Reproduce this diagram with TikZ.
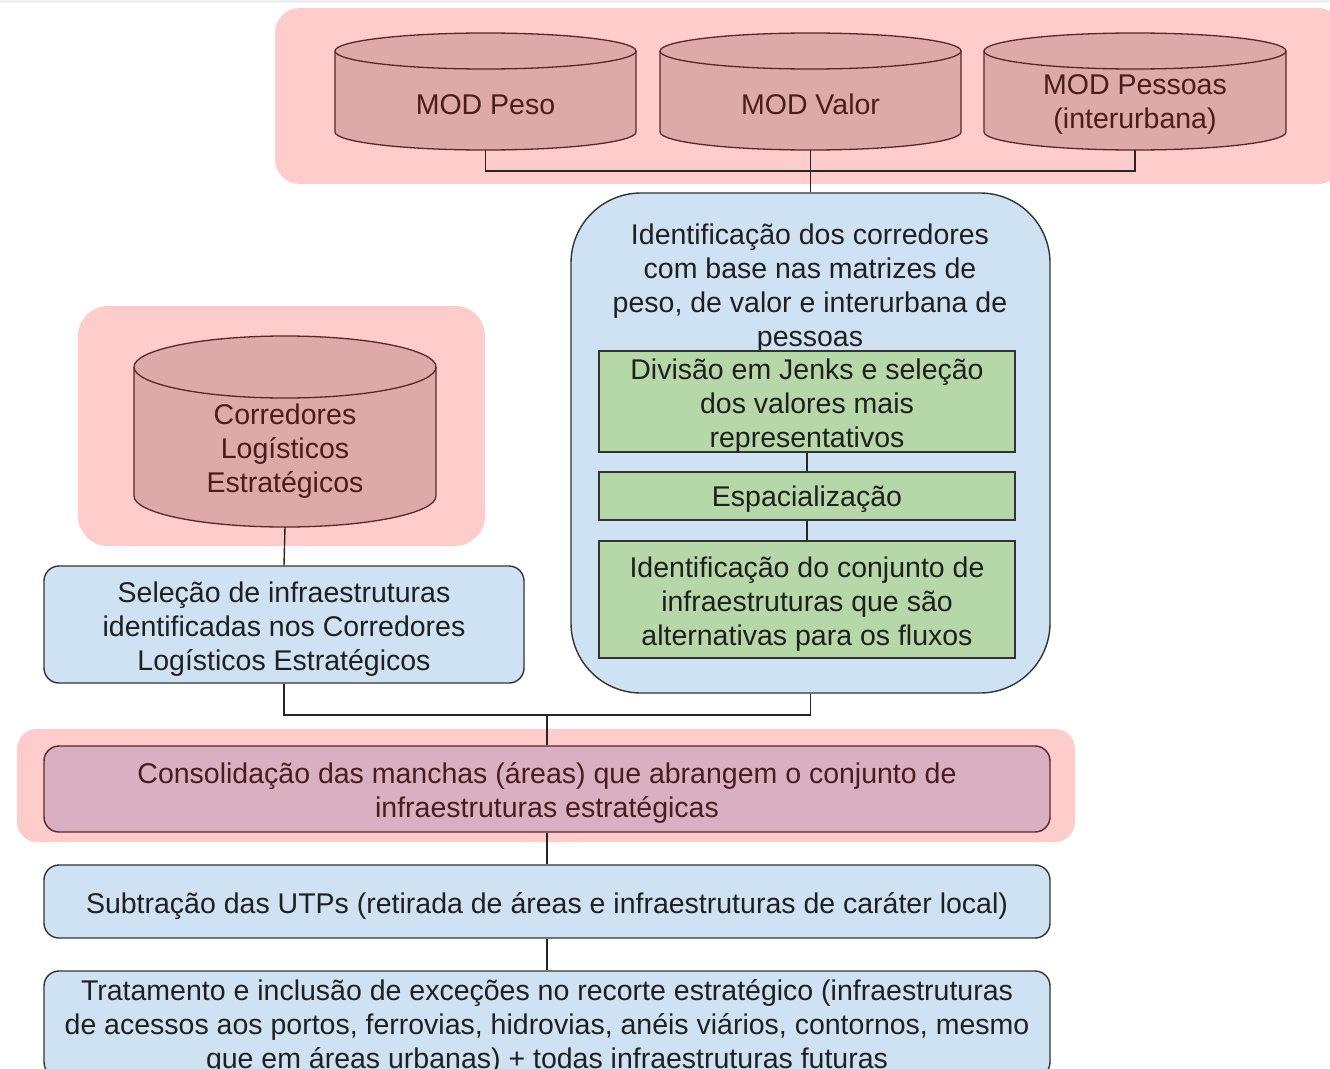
\documentclass[tikz,border=0pt]{standalone}
\usepackage{fontspec}
\setmainfont{Liberation Sans}
\definecolor{pinkbg}{HTML}{FFCCCC}
\definecolor{cylfill}{HTML}{DDA9A9}
\definecolor{cylline}{HTML}{5A2626}
\definecolor{cyltext}{HTML}{4A1C1C}
\definecolor{bluefill}{HTML}{CFE2F3}
\definecolor{greenfill}{HTML}{B6D7A8}
\definecolor{mauvefill}{HTML}{D8B0C2}
\definecolor{darkline}{HTML}{333333}
\definecolor{topgray}{HTML}{EFEFEF}
\newcommand{\mycyl}[7]{%
  \pgfmathsetmacro{\cylrx}{(#3-#2)/2}%
  \pgfmathsetmacro{\cylcx}{(#3+#2)/2}%
  \filldraw[cylshape] (#2,#4+#6) -- (#2,#5-#6)
    arc[start angle=180,end angle=360,x radius=\cylrx pt,y radius=#6 pt]
    -- (#3,#4+#6)
    arc[start angle=0,end angle=180,x radius=\cylrx pt,y radius=#6 pt] -- cycle;
  \draw[cylshape,fill=none] (#2,#4+#6)
    arc[start angle=180,end angle=360,x radius=\cylrx pt,y radius=#6 pt];
  \node[cyltxt] (#1) at (\cylcx,{(#4+#5+#6)/2+4}) {#7};
  \coordinate (#1b) at (\cylcx,#5);
}
\begin{document}
\begin{tikzpicture}[x=1pt,y=-1pt,
  txt/.style={font=\fontsize{28.5}{34}\selectfont, align=center, inner sep=0pt, text=black!88},
  cylshape/.style={draw=cylline, fill=cylfill, line width=1.3pt},
  cyltxt/.style={txt, text=cyltext},
  band/.style={fill=pinkbg, draw=none},
  bluebox/.style={draw=darkline, fill=bluefill, line width=1.4pt, rounded corners=15pt, inner sep=0pt},
  greenbox/.style={draw=darkline, fill=greenfill, line width=1.4pt, minimum width=416pt, inner sep=0pt},
  mauvebox/.style={draw=cylline, fill=mauvefill, line width=1.4pt, rounded corners=15pt, inner sep=0pt},
  conn/.style={draw=black!85, line width=1.4pt}
]
\useasboundingbox (0,0) rectangle (1330,1068);
\clip (0,0) rectangle (1330,1068);
\fill[white] (0,0) rectangle (1330,1068);
\fill[topgray] (0,0) rectangle (1330,3);

% background bands
\path[band, rounded corners=25pt] (275,8) rectangle (1343,184);
\path[band, rounded corners=30pt] (78,306) rectangle (485,546);
\path[band, rounded corners=20pt] (17,729) rectangle (1075,842);

% cylinders
\mycyl{peso}{335}{636}{33}{150}{18}{MOD Peso}
\mycyl{valor}{660}{961}{33}{150}{18}{MOD Valor}
\mycyl{pessoas}{984}{1286}{33}{150}{18}{MOD Pessoas\\(interurbana)}
\mycyl{corr}{134}{436}{336}{527}{31}{Corredores\\Logísticos\\Estratégicos}

% big blue box
\node[bluebox, rounded corners=70pt, minimum width=479pt, minimum height=500pt] (ident) at (810.5,443) {};
\node[txt] (identtxt) at (810,288.5) {Identificação dos corredores\\com base nas matrizes de\\peso, de valor e interurbana de\\pessoas};

% green boxes
\node[greenbox, minimum height=101pt] (jenks) at (807,401.5) {};
\node[txt] (jenkstxt) at ([yshift=-4.5pt]jenks.center) {Divisão em Jenks e seleção\\dos valores mais\\representativos};
\node[greenbox, minimum height=48pt] (espac) at (807,496) {};
\node[txt] (espactxt) at ([yshift=-3.5pt]espac.center) {Espacialização};
\node[greenbox, minimum height=117pt] (conj) at (807,599.5) {};
\node[txt] (conjtxt) at ([yshift=-5pt]conj.center) {Identificação do conjunto de\\infraestruturas que são\\alternativas para os fluxos};

% other boxes
\node[bluebox, minimum width=480pt, minimum height=117pt] (selecao) at (284,624.5) {};
\node[txt] (selecaotxt) at ([yshift=-4.5pt]selecao.center) {Seleção de infraestruturas\\identificadas nos Corredores\\Logísticos Estratégicos};
\node[mauvebox, minimum width=1006pt, minimum height=86pt] (consol) at (547,789) {};
\node[txt, text=cyltext] (consoltxt) at ([yshift=-4pt]consol.center) {Consolidação das manchas (áreas) que abrangem o conjunto de\\infraestruturas estratégicas};
\node[bluebox, minimum width=1006pt, minimum height=73pt] (subtr) at (547,901.5) {};
\node[txt] (subtrtxt) at ([yshift=-4.5pt]subtr.center) {Subtração das UTPs (retirada de áreas e infraestruturas de caráter local)};
\node[bluebox, minimum width=1006pt, minimum height=106pt] (trat) at (547,1024) {};
\node[txt] (trattxt) at ([yshift=-3pt]trat.center) {Tratamento e inclusão de exceções no recorte estratégico (infraestruturas\\de acessos aos portos, ferrovias, hidrovias, anéis viários, contornos, mesmo\\que em áreas urbanas) + todas infraestruturas futuras};

% connectors
\coordinate (jtop) at (810,171);
\coordinate (jmid) at (547,715);
\draw[conn] (pesob) |- (jtop) -| (pessoasb);
\draw[conn] (valorb) -- (ident.north);
\draw[conn] (jenks) -- (espac);
\draw[conn] (espac) -- (conj);
\draw[conn] (corrb) -- (selecao.north);
\draw[conn] (ident.south) |- (jmid) -| (selecao.south);
\draw[conn] (jmid) -- (consol.north);
\draw[conn] (consol) -- (subtr);
\draw[conn] (subtr) -- (trat);
\end{tikzpicture}
\end{document}
